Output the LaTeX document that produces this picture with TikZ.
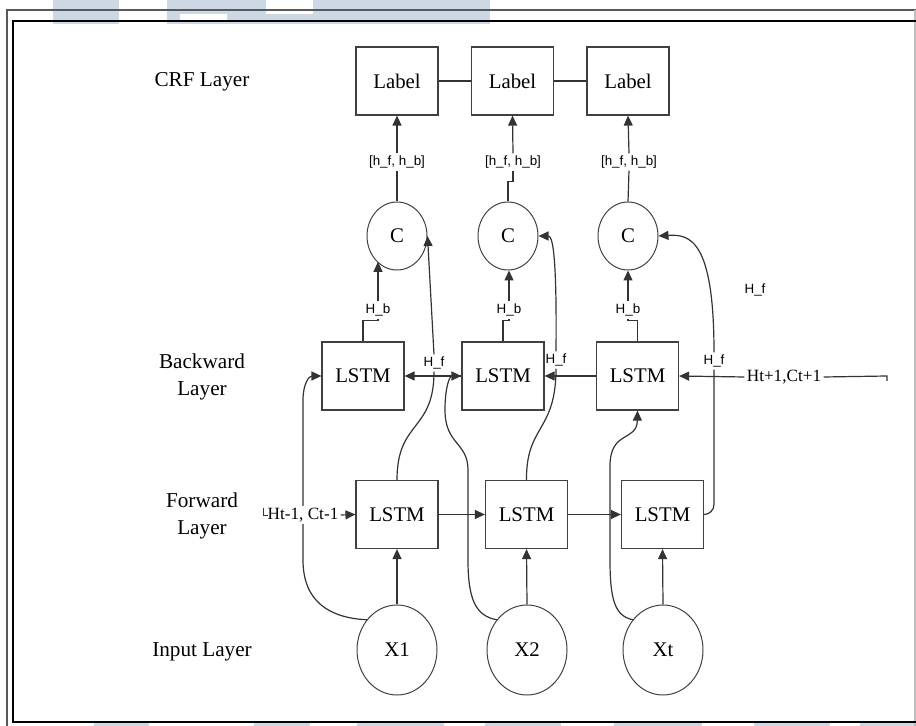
\documentclass[tikz,border=0pt]{standalone}
\usepackage{fontspec}
\setmainfont{Liberation Serif}
\setsansfont{Liberation Sans}
\usetikzlibrary{arrows.meta,shapes.geometric}
\definecolor{band}{RGB}{204,216,227}

\begin{document}
\begin{tikzpicture}
    [x=0.5pt, y=-0.5pt,
    cell/.style={draw=black!75, line width=0.6pt, minimum width=41pt,
      minimum height=34pt, inner sep=0pt, font=\fontsize{10.4}{12}\selectfont},
    unit/.style={ellipse, draw=black!75, line width=0.5pt, inner sep=0pt,
      font=\fontsize{10.4}{12}\selectfont},
    layer/.style={align=center, font=\fontsize{10.6}{13.8}\selectfont},
    tag/.style={font=\sffamily\fontsize{6.7}{8}\selectfont, inner sep=1pt},
    hint/.style={font=\fontsize{8.6}{10}\selectfont, inner sep=1pt},
    wire/.style={draw=black!80, line width=0.6pt},
    arr/.style={wire, -{Triangle[length=5pt,width=4.5pt]}}]
    \useasboundingbox (0,0) rectangle (916,726);
    \fill[band] (53,0) rectangle (119,24);
    \fill[band] (167,0) rectangle (266,24);
    \fill[band] (266,14) rectangle (313,24);
    \fill[band] (313,0) rectangle (490,24);
    \fill[white] (180,14) rectangle (227,21);
    \foreach \a/\b in {94/149, 254/310, 357/444, 485/561, 614/702, 754/830, 860/916}
      \fill[band] (\a,722) rectangle (\b,726);
    \draw[black!65, line width=0.75pt] (7,726) -- (7,10) -- (916,10);
    \draw[black!25, line width=0.6pt] (915,10) -- (915,726);
    \draw[line width=1.3pt] (930,21) -- (13,21) -- (13,722) -- (930,722);

    % layer names
    \node[layer] (crf) at (202,82) {CRF Layer};
    \node[layer] (bwl) at (202,377) {Backward\\Layer};
    \node[layer] (fwl) at (202,516) {Forward\\Layer};
    \node[layer] (inl) at (202,652) {Input Layer};

    \node[cell] (lab1) at (397,81) {Label};
    \node[cell] (lab2) at (512.5,81) {Label};
    \node[cell] (lab3) at (628,81) {Label};
    \node[unit, minimum width=30pt, minimum height=34pt] (c1) at (397,236) {C};
    \node[unit, minimum width=30pt, minimum height=34pt] (c2) at (508,236) {C};
    \node[unit, minimum width=30pt, minimum height=34pt] (c3) at (628,236) {C};
    \node[cell] (bw1) at (363,376) {LSTM};
    \node[cell] (bw2) at (503,376) {LSTM};
    \node[cell] (bw3) at (637.5,376) {LSTM};
    \node[cell] (fw1) at (397,514.5) {LSTM};
    \node[cell] (fw2) at (526.5,514.5) {LSTM};
    \node[cell] (fw3) at (662.5,514.5) {LSTM};
    \node[unit, minimum width=40pt, minimum height=45pt] (x1) at (397,650) {X1};
    \node[unit, minimum width=40pt, minimum height=45pt] (x2) at (527,650) {X2};
    \node[unit, minimum width=40pt, minimum height=45pt] (xt) at (663,650) {Xt};

    \node[tag] (hh1) at (397,162) {[h\_f, h\_b]};
    \node[tag] (hh2) at (513,162) {[h\_f, h\_b]};
    \node[tag] (hh3) at (629,162) {[h\_f, h\_b]};
    \node[tag] (hb1) at (378,310) {H\_b};
    \node[tag] (hb2) at (509,310) {H\_b};
    \node[tag] (hb3) at (628,310) {H\_b};
    \node[tag] (hf1) at (434,363) {H\_f};
    \node[tag] (hf2) at (556,360) {H\_f};
    \node[tag] (hf3) at (714,361) {H\_f};
    \node[tag] (hf0) at (755,290) {H\_f};
    \node[hint] (hc2) at (784,377) {Ht+1,Ct+1};
    \coordinate (rend) at (887,376);

    \draw[wire] (lab1.east) -- (lab2.west);
    \draw[wire] (lab2.east) -- (lab3.west);
    \draw[wire] (c1.north) -- (hh1.south);
    \draw[arr] (hh1.north) -- (lab1.south);
    \draw[wire] (c2.north) -- ++(0,-20) -| (hh2.south);
    \draw[arr] (hh2.north) -- (lab2.south);
    \draw[wire] (c3.north) -- (hh3.south);
    \draw[arr] (hh3.north) -- (lab3.south);

    \draw[wire] (bw1.north) -- ++(0,-21) -| (hb1.south);
    \draw[arr] (hb1.north) -- (hb1.north |- c1.232);
    \draw[wire] (bw2.north) -- ++(0,-21) -| (hb2.south);
    \draw[arr] (hb2.north) -- (hb2.north |- c2.south);
    \draw[wire] (bw3.north) -- ++(0,-21) -| (hb3.south);
    \draw[arr] (hb3.north) -- (c3.south);

    \draw[wire] (fw1.north) .. controls (397,420) and (434,432) .. (hf1.south);
    \draw[arr] (hf1.north) -- (c1.east);
    \draw[wire] (fw2.north) .. controls (526,425) and (556,432) .. (hf2.south);
    \draw[arr] (hf2.north) .. controls (557,248) and (552,236) .. (c2.east);
    \draw[wire, rounded corners=5pt] (fw3.east) -| (hf3.south);
    \draw[arr] (hf3.north) .. controls (714,240) and (690,234) .. (c3.east);

    \draw[arr] (hc2.west) -- (bw3.east);
    \draw[wire] (hc2.east) -- (rend) -- ++(0,5);
    \draw[arr] (bw3.west) -- (bw2.east);
    \draw[arr] (bw2.west) -- (bw1.east);

    \draw[arr] (x1.135) .. controls (330,618) and (303,602) .. (303,560)
      -- (303,400) .. controls (303,384) and (309,376) .. (bw1.west);
    \draw[arr] (x2.135) .. controls (476,616) and (468,600) .. (468,560)
      -- (468,470) .. controls (468,442) and (445,445) .. (445,410)
      .. controls (445,386) and (450,376) .. (bw2.west);
    \draw[arr] (xt.135) .. controls (615,616) and (610,600) .. (610,560)
      -- (610,466) .. controls (610,430) and (637,442) .. (bw3.south);

    \node[hint, fill=white] (hc1) at (303,515) {Ht-1, Ct-1};
    \draw[wire, line width=0.5pt] (hc1.west) ++(-2,-7) -- ++(0,8) -- ++(5,0);
    \draw[arr] (hc1.east) -- (fw1.west);
    \draw[arr] (fw1.east) -- (fw2.west);
    \draw[arr] (fw2.east) -- (fw3.west);
    \draw[arr] (x1.north) -- (fw1.south);
    \draw[arr] (x2.north) -- (fw2.south);
    \draw[arr] (xt.north) -- (fw3.south);
\end{tikzpicture}
\end{document}
